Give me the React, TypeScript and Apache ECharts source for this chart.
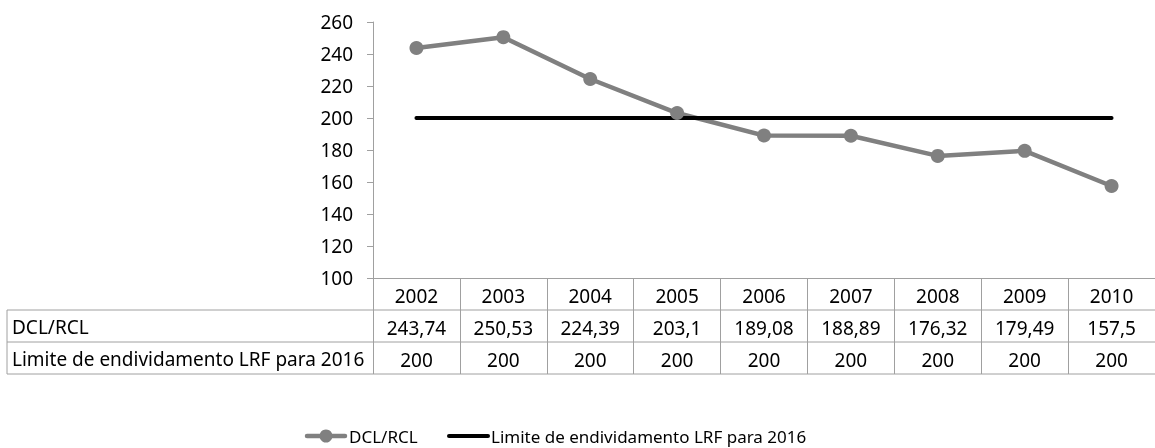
import React, { useEffect, useRef } from "react";
import * as echarts from "echarts";

const years = ["2002", "2003", "2004", "2005", "2006", "2007", "2008", "2009", "2010"];
const dclRcl = [243.74, 250.53, 224.39, 203.1, 189.08, 188.89, 176.32, 179.49, 157.5];
const limite = [200, 200, 200, 200, 200, 200, 200, 200, 200];
const seriesNames = ["DCL/RCL", "Limite de endividamento LRF para 2016"];
const yTicks = { min: 100, max: 260, interval: 20 };

const fmt = (v: number) => String(v).replace(".", ",");
const FONT = "'Noto Sans', sans-serif";
const BORDER = "#a0a0a0";
const GRAY = "#808080";

export default function App() {
  const ref = useRef<HTMLDivElement>(null);
  useEffect(() => {
    if (!ref.current) return;
    document.documentElement.style.overflow = "hidden";
    document.body.style.overflow = "hidden";
    const chart = echarts.init(ref.current, null, { renderer: "svg" });
    const gridLeft = 373;
    const gridTop = 22;
    const gridHeight = 256;
    const rowH = 32;
    const axisY = gridTop + gridHeight;
    const tableAxis = (data: string[], offset: number, showLine: boolean) => ({
      type: "category",
      gridIndex: 0,
      position: "bottom",
      offset,
      data,
      boundaryGap: true,
      axisLine: { show: showLine, lineStyle: { color: BORDER, width: 1 } },
      axisTick: showLine
        ? { show: true, inside: false, length: rowH * 3, lineStyle: { color: BORDER, width: 1 } }
        : { show: false },
      axisLabel: { interval: 0, margin: 8, color: "#000", fontSize: 19, fontFamily: FONT },
      splitLine: { show: false },
    });
    const hLine = (y: number) => ({
      type: "line",
      shape: { x1: 7, y1: y, x2: 1160, y2: y },
      style: { stroke: BORDER, lineWidth: 1 },
      silent: true,
    });
    const legY = 436;
    const legendText = (text: string, x: number) => ({
      type: "text",
      x,
      y: legY,
      style: { text, fill: "#000", fontSize: 17, fontFamily: FONT, verticalAlign: "middle", align: "left" },
      silent: true,
    });
    chart.setOption({
      animation: false,
      textStyle: { fontFamily: FONT },
      grid: { left: gridLeft, top: gridTop, width: 796, height: gridHeight, containLabel: false },
      xAxis: [
        tableAxis(years, 0, true),
        tableAxis(dclRcl.map(fmt), rowH, false),
        tableAxis(limite.map(fmt), rowH * 2, false),
      ],
      yAxis: {
        type: "value",
        min: yTicks.min,
        max: yTicks.max,
        interval: yTicks.interval,
        axisLine: { show: true, lineStyle: { color: BORDER, width: 1 } },
        axisTick: { show: true, inside: false, length: 6, lineStyle: { color: BORDER } },
        axisLabel: { color: "#000", fontSize: 19, fontFamily: FONT, margin: 20 },
        splitLine: { show: false },
      },
      series: [
        {
          name: seriesNames[0],
          type: "line",
          data: dclRcl,
          symbol: "circle",
          symbolSize: 14,
          itemStyle: { color: GRAY },
          lineStyle: { color: GRAY, width: 4.5 },
        },
        {
          name: seriesNames[1],
          type: "line",
          data: limite,
          symbol: "none",
          itemStyle: { color: "#000" },
          lineStyle: { color: "#000", width: 4, cap: "round" },
        },
      ],
      graphic: [
        hLine(axisY + rowH),
        hLine(axisY + rowH * 2),
        hLine(axisY + rowH * 3),
        {
          type: "line",
          shape: { x1: 7, y1: axisY + rowH, x2: 7, y2: axisY + rowH * 3 },
          style: { stroke: BORDER, lineWidth: 1 },
          silent: true,
        },
        ...seriesNames.map((name, i) => ({
          type: "text",
          x: 12,
          y: axisY + rowH * (i + 1) + rowH / 2 + 1,
          style: {
            text: name,
            fill: "#000",
            fontSize: 19,
            fontFamily: FONT,
            verticalAlign: "middle",
            align: "left",
          },
          silent: true,
        })),
        {
          type: "line",
          shape: { x1: 307, y1: legY, x2: 345, y2: legY },
          style: { stroke: GRAY, lineWidth: 4.5, lineCap: "round" },
          silent: true,
        },
        { type: "circle", shape: { cx: 326, cy: legY, r: 6.5 }, style: { fill: GRAY }, silent: true },
        legendText(seriesNames[0], 349),
        {
          type: "line",
          shape: { x1: 449, y1: legY, x2: 488, y2: legY },
          style: { stroke: "#000", lineWidth: 4, lineCap: "round" },
          silent: true,
        },
        legendText(seriesNames[1], 491),
      ],
    });
    return () => chart.dispose();
  }, []);
  return (
    <div
      ref={ref}
      style={{ position: "fixed", left: 0, top: 0, width: 1155, height: 448, overflow: "hidden" }}
    />
  );
}
